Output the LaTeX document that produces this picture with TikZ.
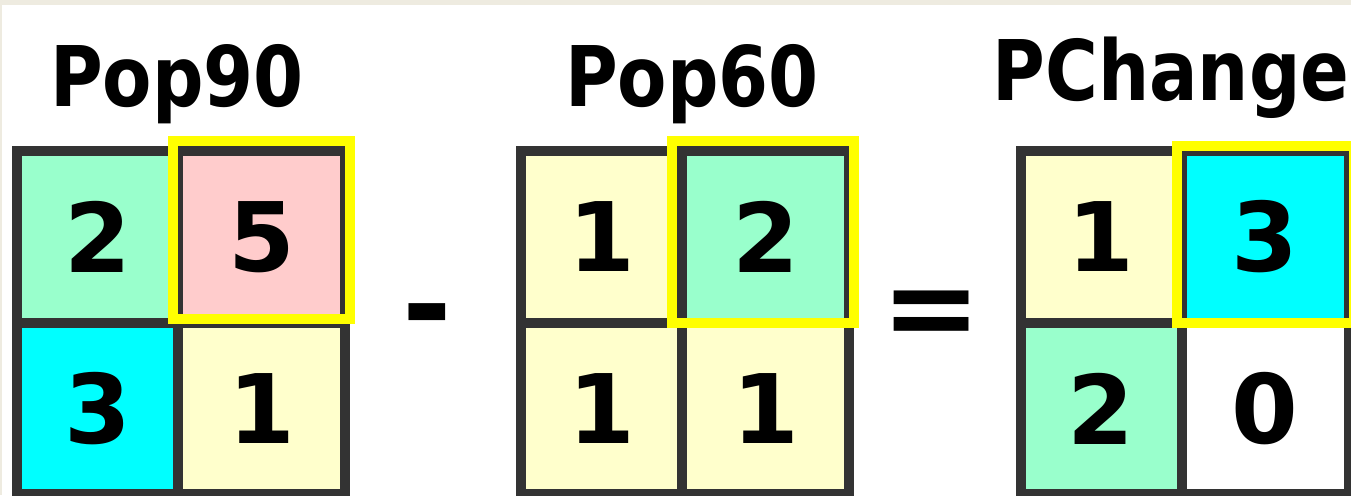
\documentclass[tikz,border=0pt]{standalone}
\usepackage{fontspec}
\setmainfont{DejaVu Sans}
\newfontfamily\headfont{DejaVu Sans}[FakeStretch=0.86]
\usetikzlibrary{positioning}
\definecolor{gridDark}{HTML}{333333}
\definecolor{cellMint}{HTML}{99FFCC}
\definecolor{cellRose}{HTML}{FFCCCC}
\definecolor{cellCyan}{HTML}{00FFFF}
\definecolor{cellCream}{HTML}{FFFFCC}
\definecolor{hiYellow}{HTML}{FFFF00}
\definecolor{pageBeige}{HTML}{EEEBE0}

\begin{document}
\begin{tikzpicture}[
  x=0.2mm, y=-0.2mm,
  cell/.style={draw=gridDark, line width=2mm, outer sep=0pt, inner sep=0pt, minimum height=34.3mm, font=\fontsize{54.6}{56}\selectfont\bfseries},
  narrow/.style={cell, minimum width=32.2mm},
  wide/.style={cell, minimum width=33.4mm},
  title/.style={anchor=base, inner sep=0pt, font=\headfont\fontsize{47.6}{50}\selectfont\bfseries},
  op/.style={inner sep=0pt, font=\fontsize{68}{70}\selectfont\bfseries},
  hilite/.style={draw=hiYellow, line width=2mm}
]
\useasboundingbox (0,0) rectangle (1351,495);
\clip (0,0) rectangle (1351,495);
\fill[white] (0,0) rectangle (1351,495);
\fill[pageBeige] (0,0) rectangle (1351,5);
\fill[pageBeige] (0,0) rectangle (2,495);

% Pop90
\node[narrow, fill=cellMint] (a11) at (97.5,237) {2};
\node[wide, fill=cellRose, right=0pt of a11] (a12) {5};
\node[narrow, fill=cellCyan, below=0pt of a11] (a21) {3};
\node[wide, fill=cellCream, below=0pt of a12] (a22) {1};
\draw[hilite] ([shift={(-5,-10)}]a12.north west) rectangle ([shift={(5,-4)}]a12.south east);
\node[title] (popA) at (177,106) {Pop90};

\node[op] (minus) at (427,325) {-};

% Pop60
\node[narrow, fill=cellCream] (b11) at (601.5,237) {1};
\node[wide, fill=cellMint, right=0pt of b11] (b12) {2};
\node[narrow, fill=cellCream, below=0pt of b11] (b21) {1};
\node[wide, fill=cellCream, below=0pt of b12] (b22) {1};
\draw[hilite] ([shift={(-10,-10)}]b12.north west) rectangle ([shift={(5,0)}]b12.south east);
\node[title] (popB) at (692,106) {Pop60};

\node[op] (equals) at (932,320) {=};

% PChange
\node[narrow, fill=cellCream] (c11) at (1101,237) {1};
\node[wide, fill=cellCyan, right=0pt of c11] (c12) {3};
\node[narrow, fill=cellMint, below=0pt of c11] (c21) {2};
\node[wide, fill=white, below=0pt of c12] (c22) {0};
\draw[hilite] ([shift={(-5,-5)}]c12.north west) rectangle ([shift={(5,0)}]c12.south east);
\node[title] (change) at (1171,100) {PChange};
\end{tikzpicture}
\end{document}
